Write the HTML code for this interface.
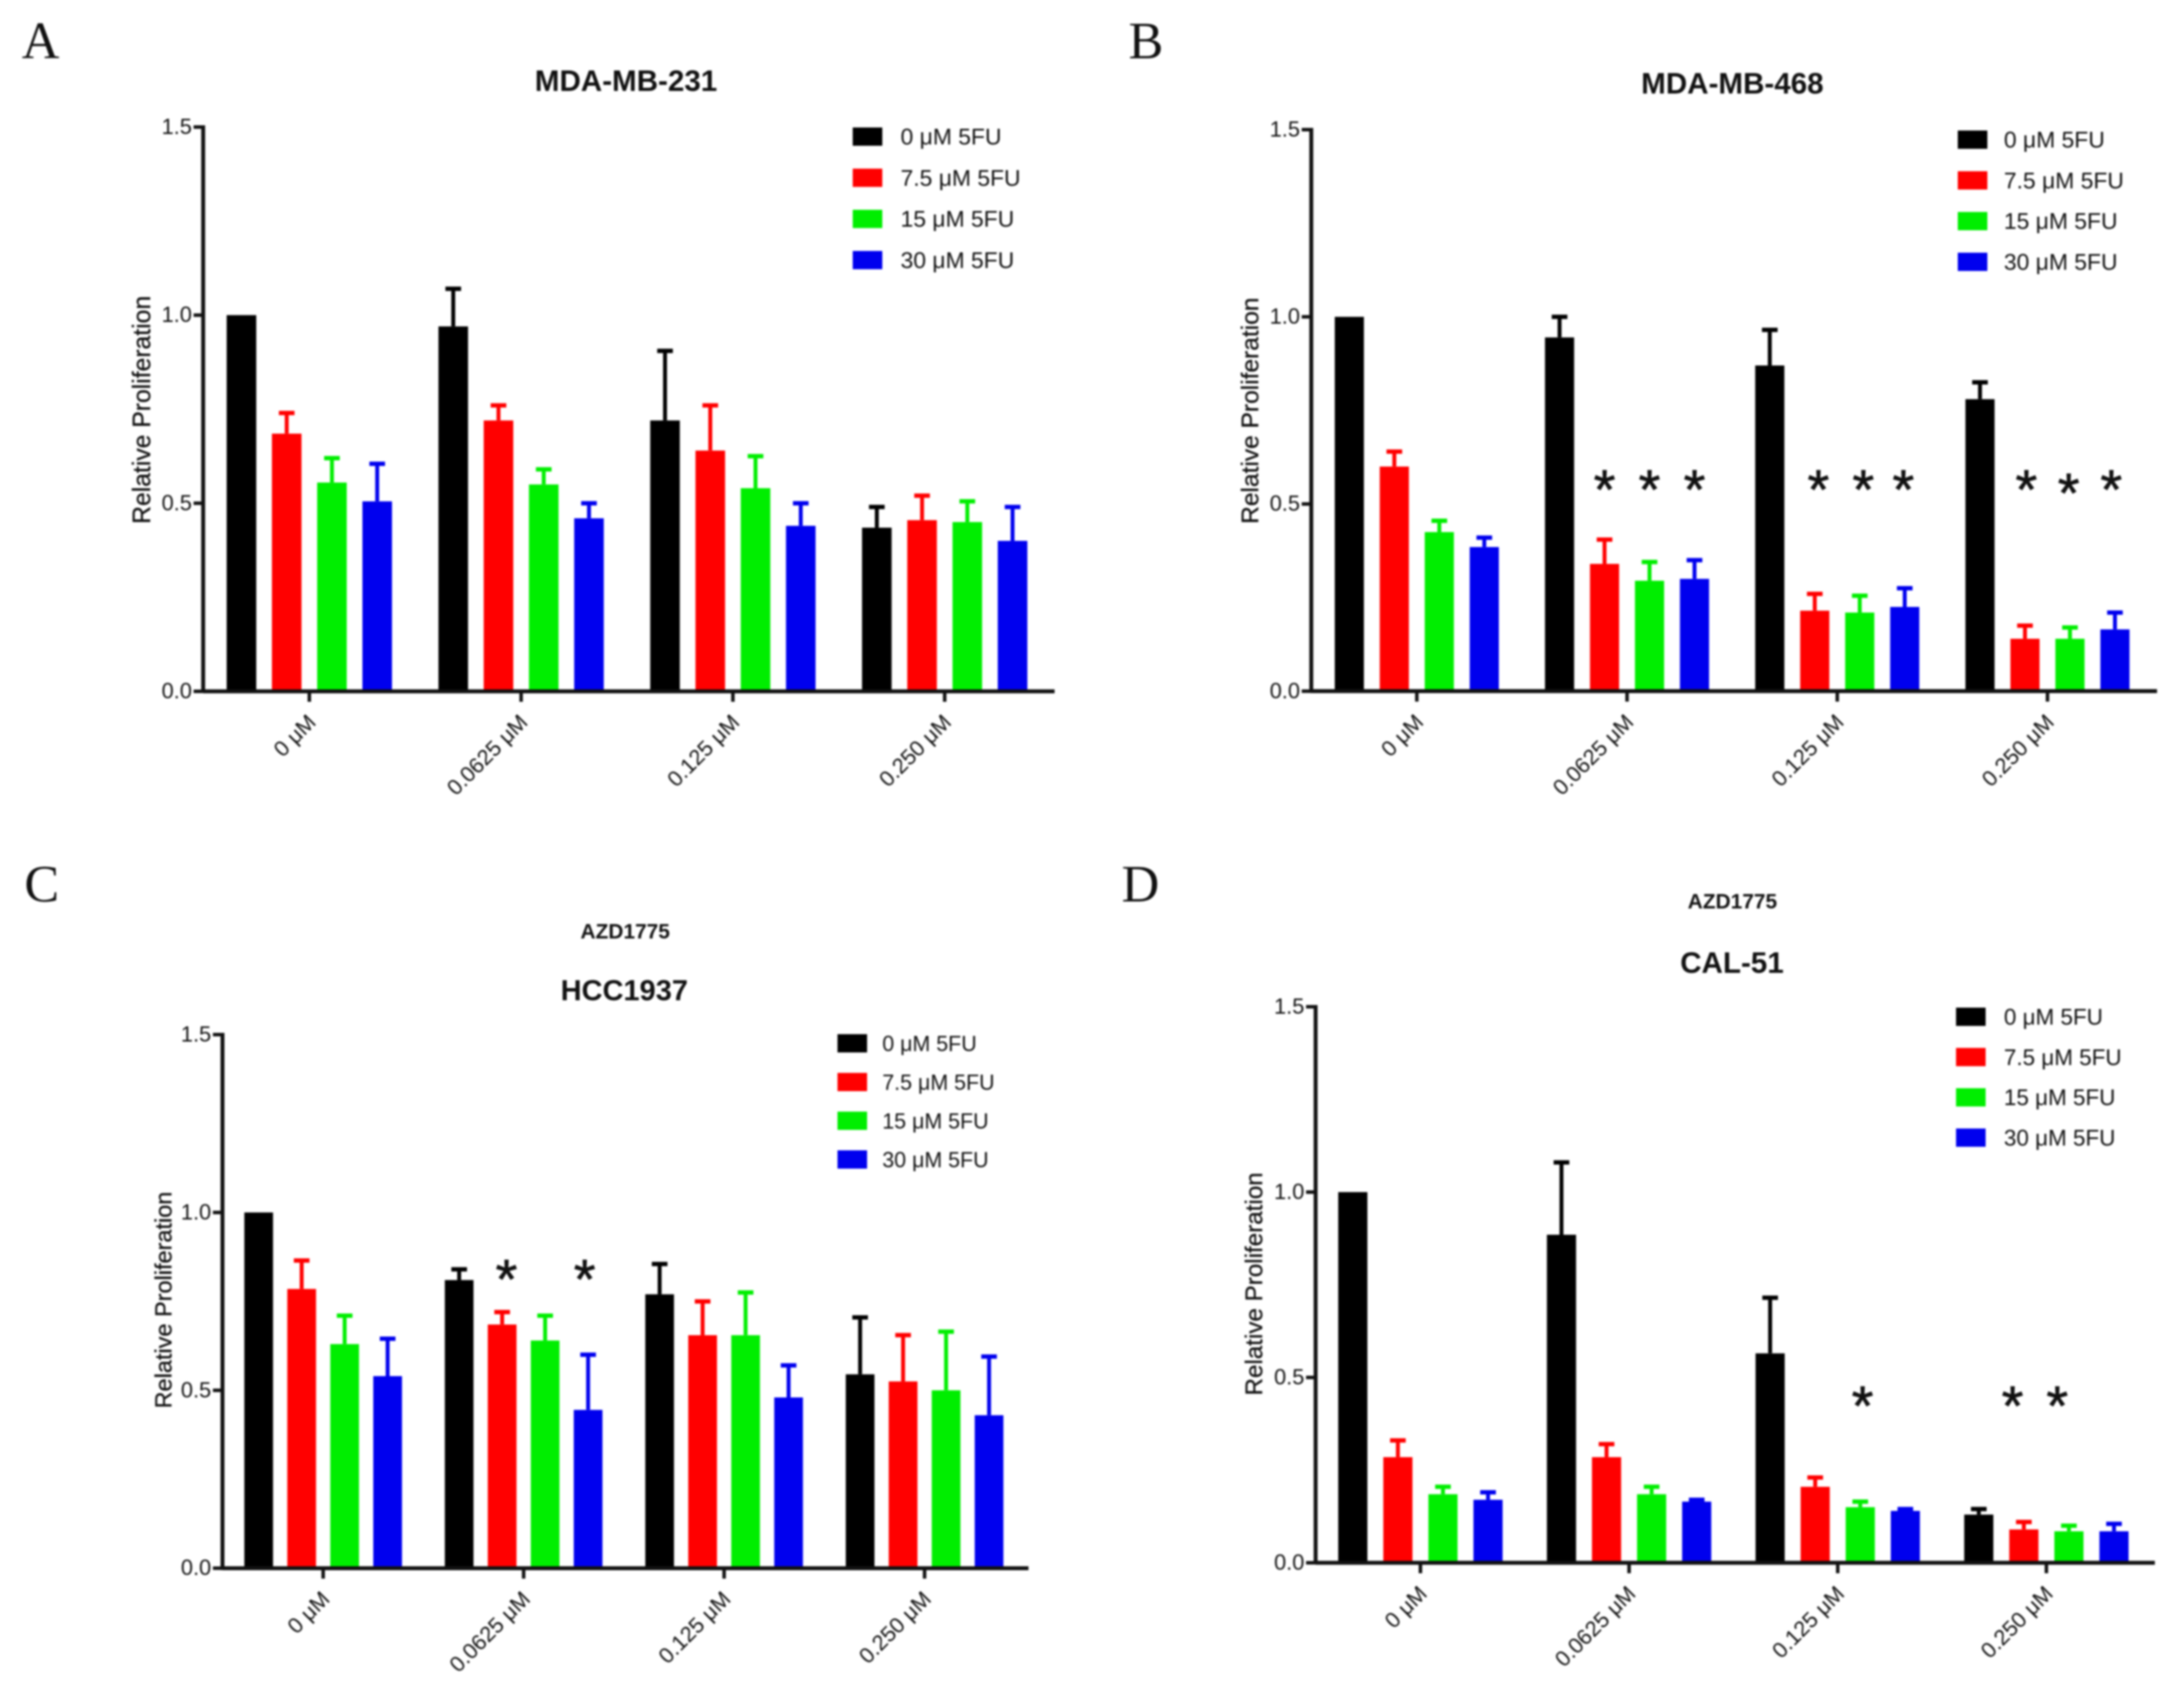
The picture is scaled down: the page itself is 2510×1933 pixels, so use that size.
<!DOCTYPE html>
<html lang="en">
<head>
<meta charset="utf-8">
<title>Relative proliferation panels</title>
<style>
html,body{margin:0;padding:0;background:#fff;}
svg{display:block;}
text{font-family:"Liberation Sans",sans-serif;fill:#111;}
.letter{font-family:"Liberation Serif",serif;font-size:60px;fill:#111;}
.title{font-weight:bold;font-size:34px;text-anchor:middle;}
.subtitle{font-weight:bold;font-size:24px;text-anchor:middle;}
.ytitle{text-anchor:middle;stroke:#111;stroke-width:.3px;}
.tick{font-size:25px;text-anchor:end;}
.cat{font-size:25px;text-anchor:end;}
.star{font-size:64px;text-anchor:middle;fill:#111;stroke:#111;stroke-width:.8px;}
#chart{filter:blur(1px);}
</style>
</head>
<body>
<svg id="chart" xmlns="http://www.w3.org/2000/svg" width="2510" height="1933" viewBox="0 0 2510 1933">
  <rect x="0" y="0" width="2510" height="1933" fill="#fff"/>
  <text class="letter" x="25" y="67">A</text>
  <text class="letter" x="1297" y="67">B</text>
  <text class="letter" x="28" y="1036">C</text>
  <text class="letter" x="1289" y="1036">D</text>

  <text class="title" x="719.5" y="104.5">MDA-MB-231</text>
  <text class="title" x="1991" y="107.5">MDA-MB-468</text>
  <text class="subtitle" x="718.5" y="1078.5">AZD1775</text>
  <text class="title" x="717.5" y="1149.5" style="font-size:33.3px">HCC1937</text>
  <text class="subtitle" x="1991" y="1044">AZD1775</text>
  <text class="title" x="1990.5" y="1118">CAL-51</text>

  <text class="ytitle" font-size="28.4" transform="translate(172.5,471) rotate(-90)">Relative Proliferation</text>
  <text class="ytitle" font-size="28.2" transform="translate(1446,472) rotate(-90)">Relative Proliferation</text>
  <text class="ytitle" font-size="27" transform="translate(197,1494) rotate(-90)">Relative Proliferation</text>
  <text class="ytitle" font-size="27.8" transform="translate(1450.5,1475.5) rotate(-90)">Relative Proliferation</text>
</svg>
<script>
var categories = ['0 μM', '0.0625 μM', '0.125 μM', '0.250 μM'];
var seriesLabels = ['0 μM 5FU', '7.5 μM 5FU', '15 μM 5FU', '30 μM 5FU'];
var yTickValues = [0, 0.5, 1.0, 1.5];

var panelAMeans = [
  [1.00, 0.97, 0.72, 0.435],
  [0.685, 0.72, 0.64, 0.455],
  [0.555, 0.55, 0.54, 0.45],
  [0.505, 0.46, 0.44, 0.40]
];
var panelAErrors = [
  [0, 0.10, 0.185, 0.055],
  [0.055, 0.04, 0.12, 0.065],
  [0.065, 0.04, 0.085, 0.055],
  [0.10, 0.04, 0.06, 0.09]
];
var panelAStars = [];

var panelBMeans = [
  [1.00, 0.945, 0.87, 0.78],
  [0.60, 0.34, 0.215, 0.14],
  [0.425, 0.295, 0.21, 0.14],
  [0.385, 0.30, 0.225, 0.165]
];
var panelBErrors = [
  [0, 0.055, 0.095, 0.045],
  [0.04, 0.065, 0.045, 0.035],
  [0.03, 0.05, 0.045, 0.03],
  [0.025, 0.05, 0.05, 0.045]
];
var panelBStars = [
  [1, 1, 0.56], [1, 2, 0.56], [1, 3, 0.56],
  [2, 1.08, 0.56], [2, 2.08, 0.56], [2, 2.97, 0.56],
  [3, 1.03, 0.56], [3, 1.97, 0.55], [3, 2.92, 0.56]
];

var panelCMeans = [
  [1.00, 0.81, 0.77, 0.545],
  [0.785, 0.685, 0.655, 0.525],
  [0.63, 0.64, 0.655, 0.50],
  [0.54, 0.445, 0.48, 0.43]
];
var panelCErrors = [
  [0, 0.03, 0.085, 0.16],
  [0.08, 0.035, 0.095, 0.13],
  [0.08, 0.07, 0.12, 0.165],
  [0.105, 0.155, 0.09, 0.165]
];
var panelCStars = [
  [1, 1.1, 0.835], [1, 2.92, 0.835]
];

var panelDMeans = [
  [1.00, 0.885, 0.565, 0.13],
  [0.285, 0.285, 0.205, 0.09],
  [0.185, 0.185, 0.15, 0.085],
  [0.17, 0.165, 0.14, 0.085]
];
var panelDErrors = [
  [0, 0.195, 0.15, 0.015],
  [0.045, 0.035, 0.025, 0.02],
  [0.02, 0.02, 0.015, 0.015],
  [0.02, 0.005, 0.005, 0.02]
];
var panelDStars = [
  [2, 2.05, 0.445], [3, 0.75, 0.445], [3, 1.74, 0.445]
];

var seriesColors = ['#000000', '#ff0000', '#00ee00', '#0000ee'];
var NS = 'http://www.w3.org/2000/svg';
var root = document.getElementById('chart');

function make(tag, parent, attrs, txt) {
  var n = document.createElementNS(NS, tag);
  for (var k in attrs) n.setAttribute(k, attrs[k]);
  if (txt !== undefined) n.textContent = txt;
  parent.appendChild(n);
  return n;
}

function drawPanel(id, means, errors, stars, g) {
  var yScale = function (v) { return g.y0 - v * (g.y0 - g.yTop) / 1.5; };
  var barX = function (c, s) { return g.firstBar + c * g.groupPitch + s * g.barPitch; };
  var wrap = make('g', root, {});
  
  

  means.forEach(function (row, s) {
    row.forEach(function (v, c) {
      var x = barX(c, s);
      var bar = make('rect', wrap, { x: x, y: yScale(v), width: g.barW, height: g.y0 - yScale(v), fill: seriesColors[s] });
      
      
      var e = errors[s][c];
      if (e > 0) {
        var cx = x + g.barW / 2;
        var top = yScale(v + e);
        var stem = make('line', wrap, { x1: cx, x2: cx, y1: yScale(v), y2: top, stroke: seriesColors[s], 'stroke-width': 4.5 });
        
        
        var cap = make('line', wrap, { x1: cx - 9, x2: cx + 9, y1: top, y2: top, stroke: seriesColors[s], 'stroke-width': 5 });
        
        
      }
    });
  });

  var yAxis = make('line', wrap, { x1: g.axisX, x2: g.axisX, y1: g.yTop - 2, y2: g.y0 + 2, stroke: '#111', 'stroke-width': 4.5 });
  
  
  var xAxis = make('line', wrap, { x1: g.axisX, x2: g.xEnd, y1: g.y0, y2: g.y0, stroke: '#111', 'stroke-width': 4.5 });
  
  

  yTickValues.forEach(function (v) {
    var y = yScale(v);
    var t = make('line', wrap, { x1: g.axisX - 11, x2: g.axisX, y1: y, y2: y, stroke: '#111', 'stroke-width': 4 });
    
    
    var lab = make('text', wrap, { class: 'tick', x: g.axisX - 13, y: y + 8 }, v.toFixed(1));
    
    
  });

  categories.forEach(function (name, c) {
    var cx = barX(c, 0) + (3 * g.barPitch + g.barW) / 2;
    var t = make('line', wrap, { x1: cx, x2: cx, y1: g.y0, y2: g.y0 + 12, stroke: '#111', 'stroke-width': 4 });
    
    
    var lab = make('text', wrap, { class: 'cat', transform: 'translate(' + (cx + 9) + ',' + (g.y0 + 37) + ') rotate(-45)' }, name);
    
    
  });

  seriesLabels.forEach(function (name, s) {
    var ly = g.legendY + s * g.legendStep;
    var sw = make('rect', wrap, { x: g.legendX, y: ly - 10.5, width: 34, height: 21, fill: seriesColors[s] });
    
    
    var lab = make('text', wrap, { x: g.legendTextX, y: ly + 9, 'font-size': g.legendFont }, name);
    
    
  });

  stars.forEach(function (st, i) {
    var sx = barX(st[0], st[1]) + g.barW / 2;
    var mark = make('text', wrap, { class: 'star', x: sx, y: yScale(st[2]) + 31 }, '*');
    
    
  });
}

drawPanel('a', panelAMeans, panelAErrors, panelAStars, { axisX: 233.5, xEnd: 1212, y0: 794.5, yTop: 146, firstBar: 260.5, barW: 34, barPitch: 52, groupPitch: 243.4, legendX: 980, legendTextX: 1035, legendFont: 26.3, legendY: 157, legendStep: 47.3 });
drawPanel('b', panelBMeans, panelBErrors, panelBStars, { axisX: 1507, xEnd: 2479, y0: 794.3, yTop: 149, firstBar: 1534, barW: 33.5, barPitch: 51.7, groupPitch: 241.6, legendX: 2250, legendTextX: 2303, legendFont: 26.3, legendY: 160.5, legendStep: 46.8 });
drawPanel('c', panelCMeans, panelCErrors, panelCStars, { axisX: 255.7, xEnd: 1182, y0: 1802.2, yTop: 1189, firstBar: 280.8, barW: 33, barPitch: 49.4, groupPitch: 230.4, legendX: 962.5, legendTextX: 1014, legendFont: 24.6, legendY: 1199, legendStep: 44.5 });
drawPanel('d', panelDMeans, panelDErrors, panelDStars, { axisX: 1512, xEnd: 2476.5, y0: 1796, yTop: 1157, firstBar: 1538, barW: 33.5, barPitch: 51.8, groupPitch: 239.8, legendX: 2248, legendTextX: 2303, legendFont: 25.8, legendY: 1168.5, legendStep: 46.3 });
</script>
</body>
</html>
